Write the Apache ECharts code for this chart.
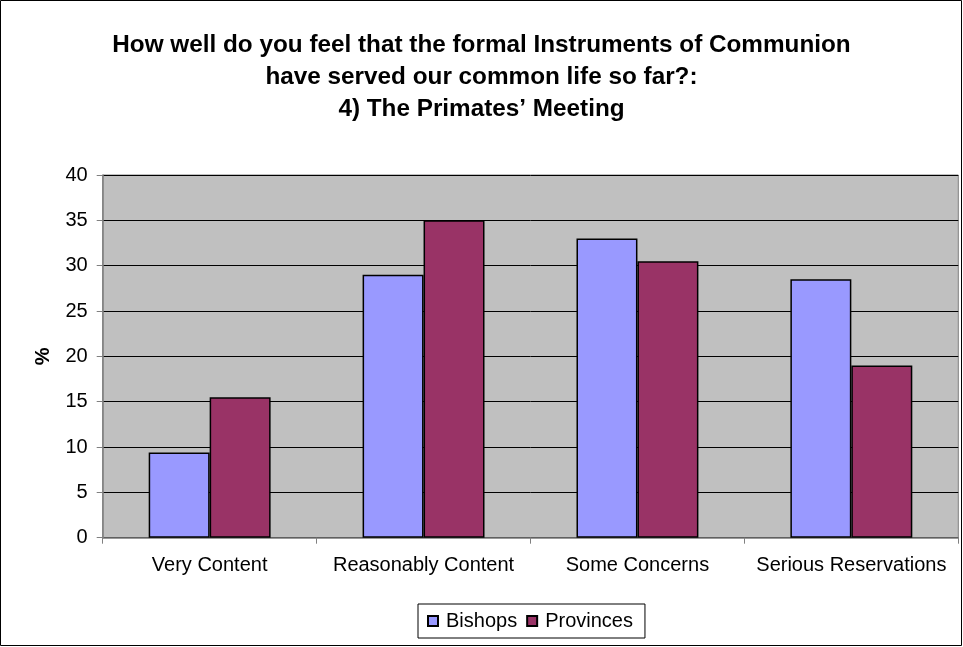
<!DOCTYPE html>
<html><head><meta charset="utf-8">
<script src="https://cdn.jsdelivr.net/npm/echarts@6/dist/echarts.min.js"></script>
<style>html,body{margin:0;padding:0;background:#fff}#c{width:963px;height:647px}</style>
</head><body><div id="c"></div>
<script>
var categories = ['Very Content', 'Reasonably Content', 'Some Concerns', 'Serious Reservations'];
var bishops = [9.4, 29.0, 33.0, 28.5];
var provinces = [15.5, 35.0, 30.5, 19.0];
var seriesNames = ['Bishops', 'Provinces'];
var titleText = 'How well do you feel that the formal Instruments of Communion\nhave served our common life so far?:\n4) The Primates\u2019 Meeting';

var chart = echarts.init(document.getElementById('c'));
var font = 'Arial, "Liberation Sans", sans-serif';
chart.setOption({
  animation: false,
  textStyle: {fontFamily: font},
  graphic: [{type: 'rect', shape: {x: 0.5, y: 0.5, width: 961, height: 645}, style: {fill: 'none', stroke: '#000', lineWidth: 1}, z: -1}],
  title: {
    text: titleText, left: 'center', top: 24,
    textStyle: {fontFamily: font, fontSize: 24.3, fontWeight: 'bold', color: '#000', lineHeight: 32}
  },
  legend: {
    data: seriesNames, bottom: 9, left: 418,
    itemWidth: 10, itemHeight: 10, itemGap: 9, icon: 'rect',
    padding: [7, 12, 7, 9],
    borderColor: '#000', borderWidth: 1,
    textStyle: {fontFamily: font, fontSize: 20, color: '#000', padding: [0, 0, 0, 3]}
  },
  grid: {left: 102.7, right: 4.7, top: 175, bottom: 109.3, show: true, backgroundColor: '#C0C0C0', borderColor: '#808080', borderWidth: 1},
  xAxis: {
    type: 'category', data: categories,
    axisLine: {lineStyle: {color: '#808080', width: 1.5}},
    axisTick: {show: true, interval: 0, alignWithLabel: false, length: 6, lineStyle: {color: '#808080'}},
    axisLabel: {interval: 0, fontFamily: font, fontSize: 20, color: '#000', margin: 18}
  },
  yAxis: {
    type: 'value', min: 0, max: 40, interval: 5,
    name: '%', nameLocation: 'middle', nameGap: 49, nameRotate: 90,
    nameTextStyle: {fontFamily: font, fontSize: 20, fontWeight: 'bold', color: '#000'},
    axisLine: {show: true, lineStyle: {color: '#808080', width: 1.5}},
    axisTick: {show: true, length: 6, inside: false, lineStyle: {color: '#808080'}},
    axisLabel: {fontFamily: font, fontSize: 20, color: '#000', margin: 15},
    splitLine: {lineStyle: {color: '#000', width: 1}}
  },
  series: [
    {name: seriesNames[0], type: 'bar', data: bishops, barGap: '0%', barCategoryGap: '43%',
     itemStyle: {color: '#9999FF', borderColor: '#000', borderWidth: 1.5}},
    {name: seriesNames[1], type: 'bar', data: provinces, barGap: '0%', barCategoryGap: '43%',
     itemStyle: {color: '#993366', borderColor: '#000', borderWidth: 1.5}}
  ]
});
</script></body></html>
